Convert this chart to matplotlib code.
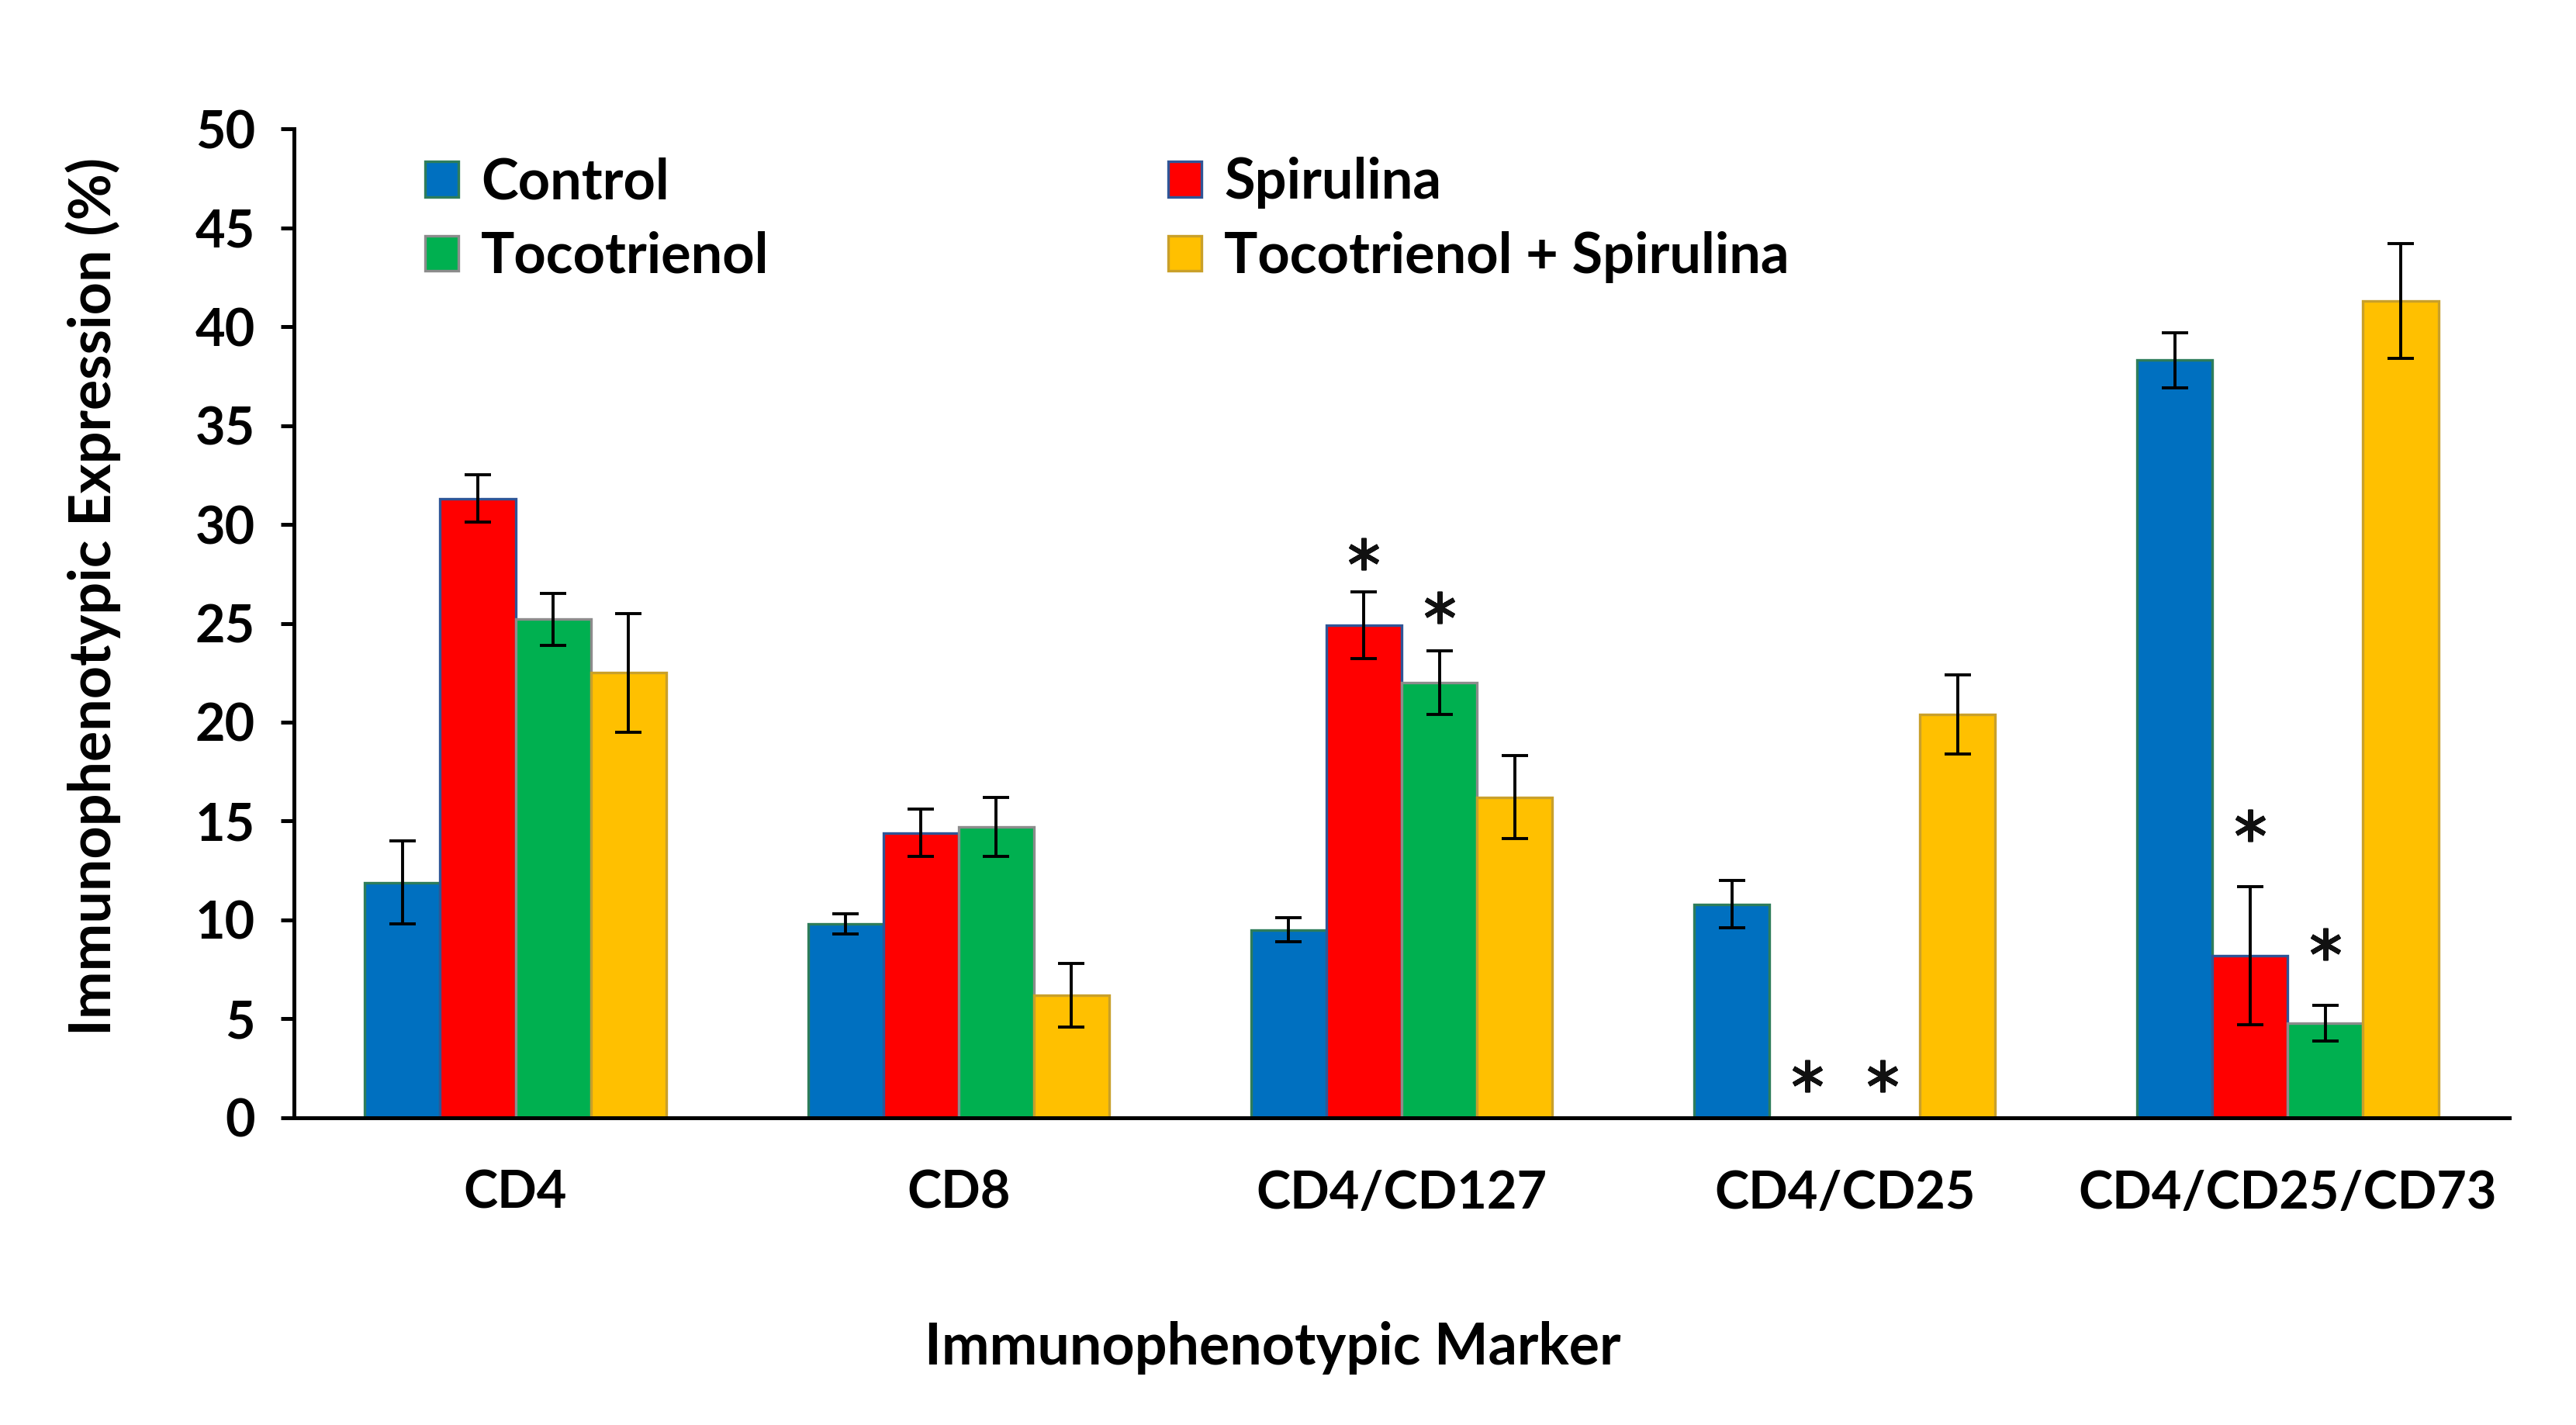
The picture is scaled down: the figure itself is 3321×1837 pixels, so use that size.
import matplotlib.pyplot as plt
import numpy as np
from matplotlib.patches import Patch

# ---------------- Data ----------------
markers_cd = ['CD4', 'CD8', 'CD4/CD127', 'CD4/CD25', 'CD4/CD25/CD73']
groups = ['Control', 'Spirulina', 'Tocotrienol', 'Tocotrienol + Spirulina']

control = [11.9, 9.8, 9.5, 10.8, 38.3]
spirulina = [31.3, 14.4, 24.9, 0.0, 8.2]
tocotrienol = [25.2, 14.7, 22.0, 0.0, 4.8]
toco_spir = [22.5, 6.2, 16.2, 20.4, 41.3]

control_err = [2.1, 0.5, 0.6, 1.2, 1.4]
spirulina_err = [1.2, 1.2, 1.7, 0.0, 3.5]
tocotrienol_err = [1.3, 1.5, 1.6, 0.0, 0.9]
toco_spir_err = [3.0, 1.6, 2.1, 2.0, 2.9]

# significance stars: (marker index, group index, y position)
star_marker_idx = [2, 2, 3, 3, 4, 4]
star_group_idx = [1, 2, 1, 2, 1, 2]
star_y = [28.5, 25.8, 2.1, 2.1, 14.8, 8.8]

# ---------------- Plotting ----------------
plt.rcParams['font.family'] = ['Lato', 'DejaVu Sans']
plt.rcParams['font.weight'] = 'bold'

fig = plt.figure(figsize=(16.605, 9.185), dpi=200)
ax = fig.add_axes([0.1141, 0.2156, 0.8600, 0.694])

values = [control, spirulina, tocotrienol, toco_spir]
errors = [control_err, spirulina_err, tocotrienol_err, toco_spir_err]
colors = ['#0070C0', '#FF0000', '#00B050', '#FFC000']
edges = ['#2E7D5B', '#2F5597', '#8C8C8C', '#C9A02A']

x = np.arange(len(markers_cd))
w = 0.17
offsets = (np.arange(4) - 1.5) * w

for i in range(4):
    ax.bar(x + offsets[i], values[i], w, color=colors[i], edgecolor=edges[i],
           linewidth=1.2, label=groups[i], zorder=2)
    err = np.array(errors[i])
    mask = err > 0
    ax.errorbar((x + offsets[i])[mask], np.array(values[i])[mask], yerr=err[mask],
                fmt='none', ecolor='black', elinewidth=1.4, capsize=6,
                capthick=1.4, zorder=3)

for m, g, yv in zip(star_marker_idx, star_group_idx, star_y):
    ax.plot(x[m] + offsets[g], yv, marker=(6, 2, 0), color='#111111',
            markersize=15, markeredgewidth=2.2, linestyle='none', zorder=4)

ax.set_xlim(-0.5, 4.5)
ax.set_ylim(0, 50)
ax.set_yticks(np.arange(0, 51, 5))
ax.set_xticks(x)
ax.set_xticklabels(markers_cd)
ax.tick_params(axis='y', direction='out', length=6, width=1.8, labelsize=24, pad=12)
ax.tick_params(axis='x', length=0, labelsize=24, pad=24)
for s in ['top', 'right']:
    ax.spines[s].set_visible(False)
for s in ['left', 'bottom']:
    ax.spines[s].set_linewidth(1.8)

ax.set_ylabel('Immunophenotypic Expression (%)', fontsize=26.5, fontweight='bold')
ax.yaxis.set_label_coords(-0.078, 0.527)
fig.text(0.494, 0.054, 'Immunophenotypic Marker', fontsize=26.5,
         fontweight='bold', ha='center', va='center')

handles = [Patch(facecolor=colors[i], edgecolor=edges[i], linewidth=1.2) for i in [0, 2, 1, 3]]
labels = [groups[i] for i in [0, 2, 1, 3]]
fig.legend(handles, labels, loc='upper left', bbox_to_anchor=(0.165, 0.890),
           ncol=2, frameon=False, fontsize=26, handlelength=0.6, handleheight=0.6,
           handletextpad=0.4, columnspacing=7.12, labelspacing=0.40, borderpad=0,
           borderaxespad=0)

plt.savefig('out.png', dpi=200)
